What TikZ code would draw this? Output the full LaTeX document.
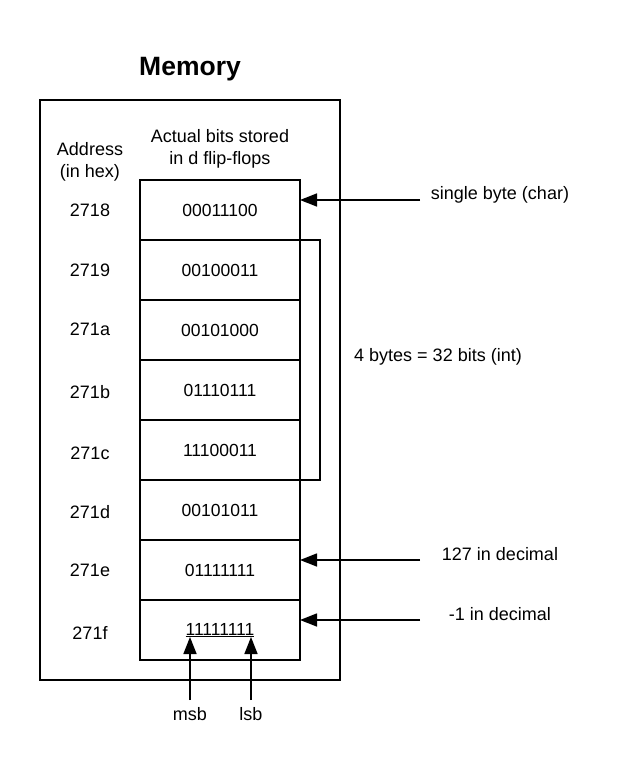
\documentclass[tikz,border=0pt]{standalone}
\usepackage{fontspec}
\setmainfont{Liberation Sans}
\usetikzlibrary{arrows.meta, positioning}

\begin{document}
\begin{tikzpicture}[
    x=1pt, y=-1pt,
    node distance=0pt,
    cell/.style={
        draw,
        line width=1.5pt,
        minimum width=160pt,
        minimum height=60pt,
        inner sep=0pt,
        outer sep=0pt,
        font=\fontsize{17.5}{20}\selectfont
    },
    txt/.style={
        align=center,
        inner sep=2pt,
        font=\fontsize{18}{22}\selectfont
    },
    arrow/.style={-{Triangle[length=17pt,width=13pt]}, line width=1.5pt}
]
\useasboundingbox (0,0) rectangle (620,780);

% title and outer box
\node[font=\fontsize{26.5}{30}\selectfont\bfseries] (title) at (190,69) {Memory};
\node[draw, line width=1.5pt, minimum width=300pt, minimum height=580pt,
      outer sep=0pt] (mem) at (190,390) {};

% column headings
\node[txt] (addrhead) at (90,162) {Address\\(in hex)};
\node[txt] (bitshead) at (220,149) {Actual bits stored\\in d flip-flops};

% memory cells
\node[cell] (c1) at (220,210) {00011100};
\node[cell, below=of c1] (c2) {00100011};
\node[cell, below=of c2] (c3) {00101000};
\node[cell, below=of c3] (c4) {01110111};
\node[cell, below=of c4] (c5) {11100011};
\node[cell, below=of c5] (c6) {00101011};
\node[cell, below=of c6] (c7) {01111111};
\node[cell, below=of c7] (c8) {\underline{11111111}};

% addresses
\node[txt] (a1) at (90,210) {2718};
\node[txt] (a2) at (90,270) {2719};
\node[txt] (a3) at (90,329) {271a};
\node[txt] (a4) at (90,392) {271b};
\node[txt] (a5) at (90,453) {271c};
\node[txt] (a6) at (90,512) {271d};
\node[txt] (a7) at (90,570) {271e};
\node[txt] (a8) at (90,633) {271f};

% int bracket
\draw[line width=1.5pt] (c2.north east) -- ++(20,0) |- (c5.south east);
\node[txt] (intlbl) at (438,357) {4 bytes = 32 bits (int)};

% pointers from the right
\node[txt] (charlbl) at (500,195) {single byte (char)};
\node[txt] (poslbl) at (500,554) {127 in decimal};
\node[txt] (neglbl) at (500,614) {-1 in decimal};
\coordinate (charend) at (420,200);
\coordinate (posend) at (420,560);
\coordinate (negend) at (420,620);
\draw[arrow] (charend) -- (charend -| c1.east);
\draw[arrow] (posend) -- (posend -| c7.east);
\draw[arrow] (negend) -- (negend -| c8.east);

% msb / lsb
\node[txt, anchor=north] (msb) at (190,705) {msb};
\node[txt, anchor=north] (lsb) at (251,705) {lsb};
\coordinate (msbtip) at (190,637);
\coordinate (lsbtip) at (251,637);
\draw[arrow] ([yshift=5pt]msb.north) -- (msbtip);
\draw[arrow] ([yshift=5pt]lsb.north) -- (lsbtip);
\end{tikzpicture}
\end{document}
